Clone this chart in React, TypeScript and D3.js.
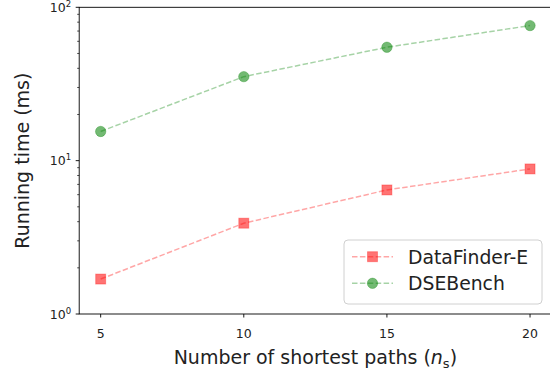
import * as d3 from 'd3';
import React from 'react';

const paths = [5, 10, 15, 20];
const finderTimes = [1.69, 3.91, 6.44, 8.83];
const benchTimes = [15.5, 35.3, 54.9, 76.0];
const seriesNames = ['DataFinder-E', 'DSEBench'];
const decades = [0, 1, 2];

const W = 550;
const H = 372;
const font = 'DejaVu Sans, sans-serif';

export default function App() {
    const x = d3.scaleLinear().domain([4.25, 20.75]).range([79.2, 551.5]);
    const y = d3.scaleLog().domain([1, 100]).range([314, 7.3]);
    const [x0, x1] = x.range();
    const [y0, y1] = y.range();

    const line = d3.line<number>()
        .x((_, i) => x(paths[i]))
        .y(d => y(d));

    const minor: number[] = [];
    for (let d = 0; d < 2; d++) {
        for (let k = 2; k < 10; k++) minor.push(k * Math.pow(10, d));
    }

    const series = [
        { name: seriesNames[0], data: finderTimes, color: '#ff0000', shape: 'square' },
        { name: seriesNames[1], data: benchTimes, color: '#008000', shape: 'circle' },
    ];

    const marker = (shape: string, cx: number, cy: number, color: string, key: any) =>
        shape === 'square'
            ? <rect key={key} x={cx - 5} y={cy - 5} width={10} height={10}
                fill={color} fillOpacity={0.55} stroke={color} strokeOpacity={0.3} strokeWidth={1} />
            : <circle key={key} cx={cx} cy={cy} r={5.2}
                fill={color} fillOpacity={0.55} stroke={color} strokeOpacity={0.3} strokeWidth={1} />;

    return (
        <div style={{ position: 'absolute', left: 0, top: 0 }}>
            <svg width={W} height={H} style={{ display: 'block', background: '#fff' }}>
                {/* series */}
                {series.map(s => (
                    <g key={s.name}>
                        <path d={line(s.data) || ''} fill="none" stroke={s.color} strokeOpacity={0.35}
                            strokeWidth={1.5} strokeDasharray="5.5 2.4" />
                        {s.data.map((v, i) => marker(s.shape, x(paths[i]), y(v), s.color, i))}
                    </g>
                ))}

                {/* spines */}
                <rect x={x0} y={y1} width={x1 - x0} height={y0 - y1} fill="none" stroke="#000" strokeWidth={0.9} />

                {/* x axis */}
                {paths.map(p => (
                    <g key={p} transform={`translate(${x(p)},${y0})`}>
                        <line y2={3.5} stroke="#000" strokeWidth={0.9} />
                        <text y={24} textAnchor="middle" fontFamily={font} fontSize={12.5} fill="#222">{p}</text>
                    </g>
                ))}
                <text x={(x0 + x1) / 2} y={364} textAnchor="middle" fontFamily={font} fontSize={19} fill="#222">
                    Number of shortest paths (<tspan fontStyle="italic">n</tspan>
                    <tspan fontSize={13} dy={4}>s</tspan><tspan dy={-4}>)</tspan>
                </text>

                {/* y axis */}
                {minor.map(v => (
                    <line key={v} x1={x0 - 2} x2={x0} y1={y(v)} y2={y(v)} stroke="#000" strokeWidth={0.7} />
                ))}
                {decades.map(d => (
                    <g key={d} transform={`translate(${x0},${y(Math.pow(10, d))})`}>
                        <line x1={-3.5} stroke="#000" strokeWidth={0.9} />
                        <text x={-8} y={4.5} textAnchor="end" fontFamily={font} fontSize={12.5} fill="#222">
                            10<tspan fontSize={8.5} dy={-5}>{d}</tspan>
                        </text>
                    </g>
                ))}
                <text transform={`translate(28.5,${(y0 + y1) / 2}) rotate(-90)`} textAnchor="middle"
                    fontFamily={font} fontSize={19} fill="#222">Running time (ms)</text>

                {/* legend */}
                <rect x={344} y={240} width={198} height={64} rx={4} fill="#fff" fillOpacity={0.8}
                    stroke="#d0d0d0" strokeWidth={1} />
                {series.map((s, i) => {
                    const ly = 256.7 + i * 26.6;
                    return (
                        <g key={s.name}>
                            <line x1={352} x2={393} y1={ly} y2={ly} stroke={s.color} strokeOpacity={0.35}
                                strokeWidth={1.5} strokeDasharray="5.5 2.4" />
                            {marker(s.shape, 372.5, ly, s.color, 'm')}
                            <text x={408} y={ly + 6.8} fontFamily={font} fontSize={18.8} fill="#222">{s.name}</text>
                        </g>
                    );
                })}
            </svg>
        </div>
    );
}
